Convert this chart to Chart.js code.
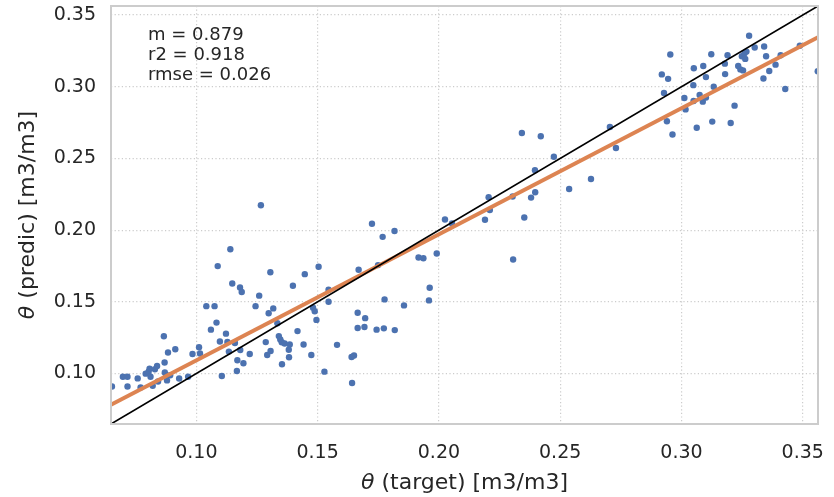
<!DOCTYPE html>
<html>
<head>
<meta charset="utf-8">
<script src="https://cdn.jsdelivr.net/npm/chart.js@4.4.1/dist/chart.umd.min.js"></script>
<style>
  body { margin: 0; background: #fff; }
</style>
</head>
<body>
<canvas id="myChart" width="834" height="497"></canvas>
<script>
// measured soil moisture (target) vs model prediction
var targetVals = [
  0.0652, 0.0697, 0.0716, 0.0716, 0.0758, 0.0770, 0.0791, 0.0803, 0.0807, 0.0811,
  0.0829, 0.0838, 0.0820, 0.0842, 0.0866, 0.0869, 0.0870, 0.0876, 0.0879, 0.0883,
  0.0892, 0.0913, 0.0929, 0.0966, 0.0984, 0.1011, 0.1015, 0.1041, 0.1075, 0.1060,
  0.1083, 0.1088, 0.1097, 0.1105, 0.1122, 0.1128, 0.1134, 0.1140, 0.1148, 0.1159,
  0.1167, 0.1169, 0.1180, 0.1187, 0.1181, 0.1194, 0.1220, 0.1244, 0.1259, 0.1266,
  0.1286, 0.1292, 0.1298, 0.1306, 0.1305, 0.1317, 0.1334, 0.1340, 0.1346, 0.1352,
  0.1364, 0.1385, 0.1381, 0.1382, 0.1353, 0.1398, 0.1417, 0.1442, 0.1447, 0.1474,
  0.1481, 0.1488, 0.1495, 0.1504, 0.1528, 0.1545, 0.1545, 0.1580, 0.1640, 0.1650,
  0.1642, 0.1665, 0.1669, 0.1665, 0.1693, 0.1696, 0.1724, 0.1743, 0.1749, 0.1768,
  0.1773, 0.1776, 0.1817, 0.1818, 0.1856, 0.1916, 0.1936, 0.1991, 0.1962, 0.1959,
  0.2025, 0.2054, 0.2190, 0.2205, 0.2210, 0.2304, 0.2306, 0.2342, 0.2352, 0.2380,
  0.2397, 0.2396, 0.2420, 0.2474, 0.2537, 0.2627, 0.2705, 0.2730, 0.2919, 0.2928,
  0.2940, 0.2945, 0.2954, 0.2963, 0.3012, 0.3017, 0.3049, 0.3050, 0.3051, 0.3063,
  0.3075, 0.3088, 0.3090, 0.3101, 0.3101, 0.3123, 0.3127, 0.3133, 0.3179, 0.3180,
  0.3190, 0.3203, 0.3219, 0.3234, 0.3243, 0.3254, 0.3249, 0.3260, 0.3268, 0.3263,
  0.3279, 0.3302, 0.3338, 0.3341, 0.3349, 0.3362, 0.3388, 0.3409, 0.3428, 0.3488,
  0.3562
];
var predVals = [
  0.0910, 0.0978, 0.0978, 0.0910, 0.0966, 0.0903, 0.0999, 0.1013, 0.1033, 0.0978,
  0.1030, 0.1053, 0.0914, 0.0944, 0.1260, 0.1077, 0.1007, 0.0986, 0.0952, 0.1147,
  0.0988, 0.1169, 0.0965, 0.0978, 0.1136, 0.1183, 0.1140, 0.1470, 0.1470, 0.1306,
  0.1355, 0.1749, 0.1223, 0.0983, 0.1278, 0.1220, 0.1153, 0.1867, 0.1628, 0.1213,
  0.1018, 0.1093, 0.1600, 0.1569, 0.1164, 0.1072, 0.1136, 0.1470, 0.1543, 0.2173,
  0.1219, 0.1129, 0.1420, 0.1157, 0.1706, 0.1454, 0.1351, 0.1261, 0.1237, 0.1218,
  0.1209, 0.1202, 0.1166, 0.1113, 0.1065, 0.1612, 0.1296, 0.1202, 0.1693, 0.1129,
  0.1459, 0.1434, 0.1374, 0.1745, 0.1013, 0.1584, 0.1501, 0.1200, 0.1115, 0.1126,
  0.0934, 0.1424, 0.1724, 0.1317, 0.1324, 0.1386, 0.2044, 0.1306, 0.1756, 0.1953,
  0.1315, 0.1517, 0.1994, 0.1303, 0.1475, 0.1809, 0.1804, 0.1837, 0.1598, 0.1510,
  0.2074, 0.2046, 0.2072, 0.2230, 0.2140, 0.2235, 0.1795, 0.2677, 0.2088, 0.2227,
  0.2264, 0.2418, 0.2655, 0.2512, 0.2287, 0.2357, 0.2719, 0.2573, 0.3086, 0.2957,
  0.2759, 0.3055, 0.3225, 0.2667, 0.2921, 0.2842, 0.3011, 0.2900, 0.3129, 0.2714,
  0.2943, 0.2896, 0.3145, 0.3067, 0.2925, 0.3227, 0.2757, 0.3000, 0.3161, 0.3088,
  0.3220, 0.2747, 0.2868, 0.3145, 0.3121, 0.3114, 0.3213, 0.3234, 0.3245, 0.3194,
  0.3356, 0.3274, 0.3057, 0.3281, 0.3213, 0.3110, 0.3154, 0.3220, 0.2984, 0.3286,
  0.3108
];
var tickVals = [0.10, 0.15, 0.20, 0.25, 0.30, 0.35];
var axisMin = 0.0648;
var axisMax = 0.3563;
// fitted regression line
var fitSlope = 0.879;
var fitIntercept = 0.0213;
var statLines = ['m = 0.879', 'r2 = 0.918', 'rmse = 0.026'];
var xTitle = ['θ', ' (target) [m3/m3]'];
var yTitle = ['θ', ' (predic) [m3/m3]'];

var FONT = "'DejaVu Sans', sans-serif";
var TEXT = '#262626';

var points = targetVals.map(function (x, i) { return { x: x, y: predVals[i] }; });
var fitLine = [axisMin, axisMax].map(function (x) { return { x: x, y: fitSlope * x + fitIntercept }; });
var oneToOne = [{ x: axisMin, y: axisMin }, { x: axisMax, y: axisMax }];

function drawMixed(ctx, parts, x, y, size) {
  // italic symbol followed by upright text, centred on x
  ctx.font = 'italic ' + size + 'px ' + FONT;
  var w0 = ctx.measureText(parts[0]).width;
  ctx.font = size + 'px ' + FONT;
  var w1 = ctx.measureText(parts[1]).width;
  var start = x - (w0 + w1) / 2;
  ctx.textAlign = 'left';
  ctx.textBaseline = 'middle';
  ctx.font = 'italic ' + size + 'px ' + FONT;
  ctx.fillText(parts[0], start, y);
  ctx.font = size + 'px ' + FONT;
  ctx.fillText(parts[1], start + w0, y);
}

var decorations = {
  id: 'decorations',
  afterDraw: function (chart) {
    var ctx = chart.ctx, a = chart.chartArea;
    ctx.save();
    // frame around the axes
    ctx.strokeStyle = '#cccccc';
    ctx.lineWidth = 2;
    ctx.setLineDash([]);
    ctx.strokeRect(a.left, a.top, a.right - a.left, a.bottom - a.top);

    ctx.fillStyle = TEXT;
    drawMixed(ctx, xTitle, (a.left + a.right) / 2, 483, 22);
    ctx.save();
    ctx.translate(28, (a.top + a.bottom) / 2);
    ctx.rotate(-Math.PI / 2);
    drawMixed(ctx, yTitle, 0, 0, 22);
    ctx.restore();

    ctx.font = '18px ' + FONT;
    ctx.textAlign = 'left';
    ctx.textBaseline = 'middle';
    statLines.forEach(function (s, i) {
      ctx.fillText(s, a.left + 37, a.top + 29 + i * 20);
    });
    ctx.restore();
  }
};

function axisOpts(isX) {
  return {
    type: 'linear',
    min: axisMin,
    max: axisMax,
    afterBuildTicks: function (s) { s.ticks = tickVals.map(function (v) { return { value: v }; }); },
    afterFit: function (s) {
      if (isX) { s.height = 73; } else { s.width = 111; }
      // labels may overhang the plot edges
      s.paddingTop = 0; s.paddingBottom = 0; s.paddingLeft = 0; s.paddingRight = 0;
    },
    grid: { color: '#cccccc', lineWidth: 1.2, drawTicks: false },
    border: { display: false, dash: [1.2, 2.4] },
    ticks: {
      callback: function (v) { return v.toFixed(2); },
      font: { family: FONT, size: 19 },
      color: TEXT,
      padding: isX ? 18 : 15
    }
  };
}

var ctx2 = document.getElementById('myChart').getContext('2d');
var chart = new Chart(ctx2, {
  type: 'scatter',
  data: {
    datasets: [
      {
        label: '1:1',
        type: 'line',
        data: oneToOne,
        borderColor: '#000000',
        borderWidth: 1.6,
        pointRadius: 0,
        order: 0
      },
      {
        label: 'fit',
        type: 'line',
        data: fitLine,
        borderColor: '#dd8452',
        borderWidth: 3.8,
        pointRadius: 0,
        order: 1
      },
      {
        label: 'samples',
        data: points,
        backgroundColor: '#4c72b0',
        borderWidth: 0,
        pointRadius: 3.2,
        order: 2
      }
    ]
  },
  options: {
    responsive: false,
    animation: false,
    layout: { padding: { top: 6, right: 16, left: 0, bottom: 0 } },
    plugins: { legend: { display: false }, tooltip: { enabled: false } },
    scales: { x: axisOpts(true), y: axisOpts(false) }
  },
  plugins: [decorations]
});
</script>
</body>
</html>
